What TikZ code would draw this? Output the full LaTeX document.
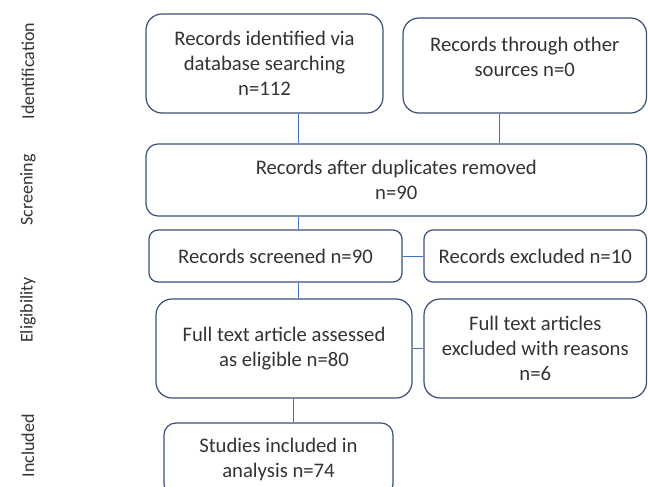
\documentclass[tikz,border=0pt]{standalone}
\usepackage{fontspec}
\setmainfont{Carlito}
\definecolor{boxline}{HTML}{3B5077}
\definecolor{linkline}{HTML}{4472C4}
\definecolor{txt}{HTML}{333333}

\tikzset{
  stage/.style={draw=boxline,line width=1.2pt,rounded corners=16pt,inner sep=0pt,
    align=center,text=txt,font=\fontsize{20.7}{25}\selectfont},
  link/.style={draw=linkline,line width=1pt},
  phase/.style={rotate=90,text=txt,font=\fontsize{18}{22}\selectfont}
}

\begin{document}
\begin{tikzpicture}[x=1pt,y=-1pt]
    \clip (0,0) rectangle (648,487);
    \fill[white] (0,0) rectangle (648,487);

    % phase names down the left side
    \foreach \y/\t in {71/Identification,190/Screening,310/Eligibility,446/Included}{
      \node[phase] (phase-\t) at (28,\y) {\t};
    }

    % boxes
    \node[stage,minimum width=237pt,minimum height=99pt] (db) at (264.5,63.5)
        {Records identified via\\database searching\\n=112};
    \node[stage,minimum width=243.5pt,minimum height=95pt,text depth=17pt] (other) at (524.75,65.5)
        {Records through other\\sources n=0};
    \node[stage,rounded corners=12pt,minimum width=500.5pt,minimum height=72pt] (dup) at (396.25,180)
        {Records after duplicates removed\\n=90};
    \node[stage,rounded corners=9pt,minimum width=253pt,minimum height=52pt] (screened) at (275.5,256)
        {Records screened n=90};
    \node[stage,rounded corners=9pt,minimum width=222.5pt,minimum height=52pt] (excluded) at (535.25,256)
        {Records excluded n=10};
    \node[stage,minimum width=256pt,minimum height=99pt] (full) at (284,348.5)
        {Full text article assessed\\as eligible n=80};
    \node[stage,minimum width=222.5pt,minimum height=99pt] (fullexcl) at (535.25,348.5)
        {Full text articles\\excluded with reasons\\n=6};
    \node[stage,rounded corners=12pt,minimum width=229pt,minimum height=73pt] (included) at (278.5,459.5)
        {Studies included in\\analysis n=74};

    % connectors
    \coordinate (spine) at (298,0);
    \coordinate (side) at (499,0);
    \coordinate (tail) at (293,0);
    \draw[link] (db.south -| spine) -- (dup.north -| spine);
    \draw[link] (other.south -| side) -- (dup.north -| side);
    \draw[link] (dup.south -| spine) -- (screened.north -| spine);
    \draw[link] (screened.south -| spine) -- (full.north -| spine);
    \draw[link] (full.south -| tail) -- (included.north -| tail);
    \draw[link] (screened.east) -- (excluded.west);
    \draw[link] (full.east) -- (fullexcl.west);
\end{tikzpicture}
\end{document}
